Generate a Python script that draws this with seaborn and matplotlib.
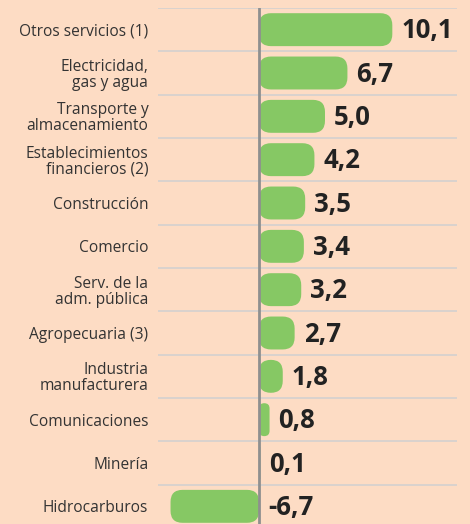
import matplotlib
matplotlib.use("Agg")
import matplotlib.pyplot as plt
import seaborn as sns
import pandas as pd
from matplotlib.patches import FancyBboxPatch

categories = ["Otros servicios (1)", "Electricidad,\ngas y agua", "Transporte y\nalmacenamiento",
              "Establecimientos\nfinancieros (2)", "Construcción", "Comercio",
              "Serv. de la\nadm. pública", "Agropecuaria (3)", "Industria\nmanufacturera",
              "Comunicaciones", "Minería", "Hidrocarburos"]
values = [10.1, 6.7, 5.0, 4.2, 3.5, 3.4, 3.2, 2.7, 1.8, 0.8, 0.1, -6.7]
value_labels = ["10,1", "6,7", "5,0", "4,2", "3,5", "3,4", "3,2", "2,7", "1,8", "0,8", "0,1", "-6,7"]

BG = "#FDDCC4"
GREEN = "#86C864"

sns.set_theme(style="white")
plt.rcParams['font.family'] = ['Open Sans', 'DejaVu Sans']

df = pd.DataFrame({"cat": categories, "val": values})
W, H = 470, 524
fig = plt.figure(figsize=(W/100, H/100), dpi=100, facecolor=BG)
ax_left, ax_right, ax_top, ax_bot = 158, 457, 8, 528
ax = fig.add_axes([ax_left/W, 1-ax_bot/H, (ax_right-ax_left)/W, (ax_bot-ax_top)/H])
ax.set_facecolor(BG)

sns.barplot(data=df, x="val", y="cat", color=GREEN, width=0.76, ax=ax, saturation=1)

n = len(categories)
ax.set_xlim(-7.65, 15.0)
ax.set_ylim(n - 0.5, -0.5)

# px -> data conversions
px_x = (15.0 + 7.65) / (ax_right - ax_left)
px_y = n / (ax_bot - ax_top)
aspect = px_y / px_x

for p in list(ax.patches):
    bb = p.get_bbox()
    x0, x1 = min(bb.x0, bb.x1), max(bb.x0, bb.x1)
    y0, y1 = min(bb.y0, bb.y1), max(bb.y0, bb.y1)
    w = x1 - x0
    r = min(12 * px_x, w / 2)
    p.remove()
    if w <= 0:
        continue
    fp = FancyBboxPatch((x0, y0), w, y1 - y0,
                        boxstyle=f"round,pad=0,rounding_size={r}",
                        mutation_aspect=aspect, facecolor=GREEN, edgecolor="none", zorder=3)
    ax.add_patch(fp)

for k in range(n + 1):
    ax.axhline(k - 0.5, color="#D3D1CF", lw=1.2, zorder=1)
ax.axvline(0, color="#8F8F8F", lw=2, zorder=4)

for i, (v, lab) in enumerate(zip(values, value_labels)):
    xpos = max(v, 0) + 9 * px_x
    ax.text(xpos, i + 0.03, lab, ha="left", va="center", fontsize=18.5, fontweight="bold",
            color="#222222", zorder=5)

ax.set_xlabel("")
ax.set_ylabel("")
ax.set_xticks([])
ax.tick_params(axis="y", length=0, pad=7)
for t in ax.get_yticklabels():
    t.set_fontsize(11.2)
    t.set_color("#333333")
    t.set_linespacing(1.0)
for s in ax.spines.values():
    s.set_visible(False)

fig.savefig("out.png", dpi=100, facecolor=BG)
